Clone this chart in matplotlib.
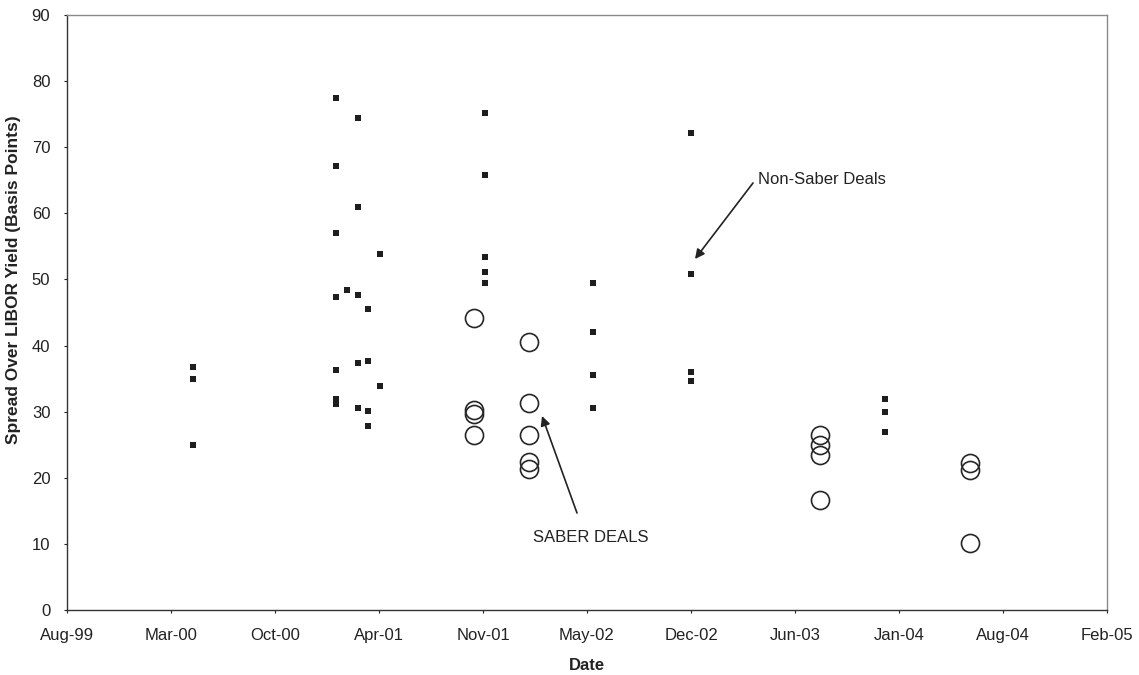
import matplotlib
matplotlib.use("Agg")
import matplotlib.pyplot as plt
import matplotlib.dates as mdates
import pandas as pd
import numpy as np

plt.rcParams['font.family'] = ['Liberation Sans', 'DejaVu Sans']

# ---- data ----
nonsaber_dates = (["2000-04-28"] * 3 +
                  ["2001-01-27"] * 7 +
                  ["2001-02-17"] * 1 +
                  ["2001-03-11"] * 5 +
                  ["2001-03-30"] * 4 +
                  ["2001-04-22"] * 2 +
                  ["2001-11-10"] * 5 +
                  ["2002-06-06"] * 4 +
                  ["2002-12-11"] * 4 +
                  ["2003-12-20"] * 3)
nonsaber_spread = [36.8, 35.0, 25.0,
                   77.4, 67.1, 57.0, 47.3, 36.3, 31.9, 31.2,
                   48.4,
                   74.4, 61.0, 47.6, 37.4, 30.6,
                   45.5, 37.6, 30.1, 27.9,
                   53.9, 33.9,
                   75.2, 65.8, 53.4, 51.1, 49.5,
                   49.5, 42.0, 35.5, 30.6,
                   72.1, 50.8, 36.0, 34.6,
                   31.9, 29.9, 27.0]

saber_dates = (["2001-10-20"] * 4 +
               ["2002-02-03"] * 5 +
               ["2003-08-16"] * 4 +
               ["2004-05-31"] * 3)
saber_spread = [44.1, 30.3, 29.7, 26.4,
                40.6, 31.3, 26.4, 22.4, 21.4,
                26.5, 25.0, 23.5, 16.7,
                22.2, 21.2, 10.1]

axis_start = "1999-08-29"
tick_step_days = 200
n_ticks = 11
y_ticks = [0, 10, 20, 30, 40, 50, 60, 70, 80, 90]

# ---- figure ----
fig = plt.figure(figsize=(11.39, 6.75), dpi=100)
ax = fig.add_axes([67 / 1139, 1 - 610 / 675, (1107 - 67) / 1139, (610 - 15) / 675])

x_ns = mdates.date2num(pd.to_datetime(nonsaber_dates))
x_s = mdates.date2num(pd.to_datetime(saber_dates))

ax.plot(x_ns, nonsaber_spread, linestyle='none', marker='s', markersize=4.3,
        color='#1e1e1e', markeredgewidth=0)
ax.plot(x_s, saber_spread, linestyle='none', marker='o', markersize=13,
        markerfacecolor='none', markeredgecolor='#262626', markeredgewidth=1.2)

x0 = mdates.date2num(pd.Timestamp(axis_start))
ticks = [x0 + i * tick_step_days for i in range(n_ticks)]
ax.set_xlim(ticks[0], ticks[-1])
ax.set_xticks(ticks)
ax.xaxis.set_major_formatter(mdates.DateFormatter('%b-%y'))
ax.set_ylim(0, 90)
ax.set_yticks(y_ticks)

ax.tick_params(axis='both', labelsize=12, colors='#222222', length=2, width=0.8)
ax.tick_params(axis='x', pad=11)
ax.tick_params(axis='y', pad=10)

for side in ['left', 'bottom']:
    ax.spines[side].set_color('#333333')
    ax.spines[side].set_linewidth(1.0)
for side in ['top', 'right']:
    ax.spines[side].set_color('#8a8a8a')
    ax.spines[side].set_linewidth(1.0)

ax.set_xlabel('Date', fontsize=12, fontweight='bold', color='#222222', labelpad=11)
ax.set_ylabel('Spread Over LIBOR Yield (Basis Points)', fontsize=12.5,
              fontweight='bold', color='#222222')
ax.yaxis.set_label_coords(-0.044, 0.555)

def px2data(px, py):
    d = x0 + (px - 67) * tick_step_days / 104.0
    v = (610 - py) / (595 / 90.0)
    return d, v

# Non-Saber annotation
tx, ty = px2data(758, 180)
ax.text(tx, ty, 'Non-Saber Deals', fontsize=12, color='#222222', ha='left', va='center')
ax.annotate('', xy=px2data(695, 259), xytext=px2data(753, 183),
            arrowprops=dict(arrowstyle='-|>', color='#222222', lw=1.2,
                            mutation_scale=14, shrinkA=0, shrinkB=0))

# Saber annotation
tx, ty = px2data(591, 537)
ax.text(tx, ty, 'SABER DEALS', fontsize=12, color='#222222', ha='center', va='center')
ax.annotate('', xy=px2data(542, 416), xytext=px2data(577, 513),
            arrowprops=dict(arrowstyle='-|>', color='#222222', lw=1.2,
                            mutation_scale=14, shrinkA=0, shrinkB=0))

fig.savefig('out.png', dpi=100)
